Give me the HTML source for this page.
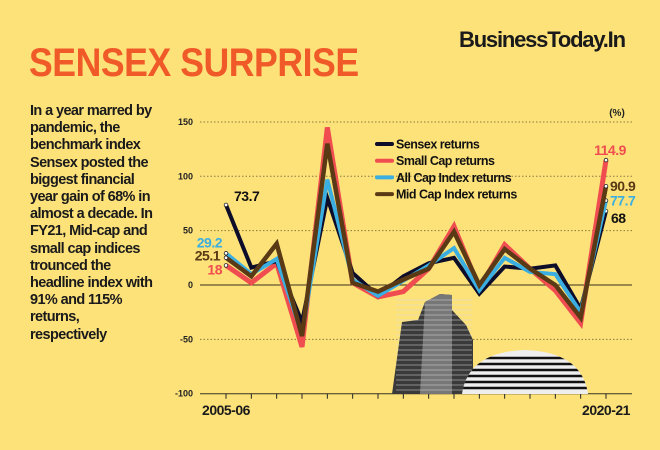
<!DOCTYPE html>
<html><head><meta charset="utf-8"><style>
body{margin:0;width:660px;height:450px;background:#fde27a;overflow:hidden;font-family:"Liberation Sans",sans-serif;position:relative}
.t{position:absolute;margin:0}
#title{left:29px;top:41px;font-size:40px;font-weight:bold;color:#f05a28;transform:scaleX(0.89);transform-origin:left top;letter-spacing:-0.5px;white-space:nowrap}
#brand{left:459px;top:27px;font-size:22px;font-weight:bold;color:#1a1a1a;letter-spacing:-1.2px;white-space:nowrap}
#desc{left:30px;top:103px;font-size:14.5px;font-weight:bold;line-height:17.2px;color:#1a1a1a;letter-spacing:-0.6px;width:160px}
svg{position:absolute;left:0;top:0}
</style></head><body>
<div class="t" id="brand">BusinessToday.In</div>
<div class="t" id="title">SENSEX SURPRISE</div>
<div class="t" id="desc">In a year marred by<br>pandemic, the<br>benchmark index<br>Sensex posted the<br>biggest financial<br>year gain of 68% in<br>almost a decade. In<br>FY21, Mid-cap and<br>small cap indices<br>trounced the<br>headline index with<br>91% and 115%<br>returns,<br>respectively</div>
<svg id="chart" width="660" height="450">
<defs><clipPath id="domeclip"><path d="M462 394 Q468 352 525 350 Q582 352 588 394 Z"/></clipPath></defs>
</svg>
<script>
const categories=["2005-06","2006-07","2007-08","2008-09","2009-10","2010-11","2011-12","2012-13","2013-14","2014-15","2015-16","2016-17","2017-18","2018-19","2019-20","2020-21"];
const sensex=[73.7,16,22,-34,80,11,-10,8,20,25,-8,17,15,18,-22,68];
const smallCap=[18,2,20,-57,145,2,-11,-6,15,54,-3,37,15,-5,-35,114.9];
const allCap=[29.2,10,24,-45,97,5,-10,4,18,34,-5,25,12,10,-25,77.7];
const midCap=[25.1,8,38,-47,130,2,-6,5,15,49,0,33,15,0,-30,90.9];
const yTicks=[150,100,50,0,-50,-100];
const NS="http://www.w3.org/2000/svg";
const svg=document.getElementById('chart');
const x0=226,x1=606,y0v=285,k=1.087;
const X=i=>x0+i*(x1-x0)/(categories.length-1);
const Y=v=>y0v-v*k;
function mk(t,a,p){const e=document.createElementNS(NS,t);for(const q in a)e.setAttribute(q,a[q]);(p||svg).appendChild(e);return e;}
yTicks.forEach(v=>{
 const solid=(v===0||v===-100);
 const g=mk('line',{x1:200,x2:632,y1:Y(v),y2:Y(v),stroke:solid?'#3a3320':'#8a7a40','stroke-width':1,'stroke-dasharray':solid?'':'1.5,2'});
 
 
 const t=mk('text',{x:193,y:Y(v)+3,'text-anchor':'end','font-size':9,'font-weight':'bold',fill:'#222'});
 t.textContent=v;
 
 
});
categories.forEach((c,i)=>{
 const tk=mk('line',{x1:X(i),x2:X(i),y1:Y(-100),y2:Y(-100)+5,stroke:'#222','stroke-width':1});
 
 
});
[[0,categories[0]],[15,categories[15]]].forEach(([i,c])=>{
 const t=mk('text',{x:X(i),y:415,'text-anchor':'middle','font-size':14,'font-weight':'bold',fill:'#1a1a1a','letter-spacing':'-0.5'});
 t.textContent=c;
 
 
});
const pct=mk('text',{x:617,y:116,'text-anchor':'middle','font-size':10,'font-weight':'bold',fill:'#222'});
pct.textContent='(%)';


const b=mk('g',{});


mk('path',{d:'M392 394 L402 322 L418 320 L425 302 L440 294 L452 295 L452 310 L466 325 L473 340 L473 394 Z',fill:'#3a3a3a'},b);
mk('path',{d:'M425 302 L440 294 L452 295 L452 394 L420 394 Z',fill:'#777'},b);
for(let y=300;y<394;y+=5){mk('line',{x1:396,x2:472,y1:y,y2:y,stroke:'#ddd','stroke-width':1,opacity:0.5},b);}
const dome=mk('g',{'clip-path':'url(#domeclip)'},b);
mk('rect',{x:460,y:348,width:130,height:46,fill:'#eee'},dome);
for(let y=358;y<394;y+=6){mk('line',{x1:460,x2:590,y1:y,y2:y,stroke:'#111','stroke-width':2.5},dome);}
const series=[[smallCap,'#ef4d4f','small-cap',5],[midCap,'#5a3a15','mid-cap',4.5],[allCap,'#3aaee0','all-cap',4],[sensex,'#0d0d2a','sensex',4]];
const drawOrder=[series[0],series[3],series[2],series[1]];
drawOrder.forEach(([d,col,n,w])=>{
 const p=mk('polyline',{points:d.map((v,i)=>X(i)+','+Y(v)).join(' '),fill:'none',stroke:col,'stroke-width':w,'stroke-linejoin':'miter'});
 
 
 [0,15].forEach(i=>{const c=mk('circle',{cx:X(i),cy:Y(d[i]),r:1.8,fill:'#fff',stroke:'#222','stroke-width':0.8});
 
 });
});
const labs=[[sensex,0,'#111',234,Y(sensex[0])-4,'start'],[allCap,0,'#3aaee0',222,Y(allCap[0])-6,'end'],[midCap,0,'#5a3a15',220,Y(midCap[0])+3,'end'],[smallCap,0,'#ef4d4f',222,Y(smallCap[0])+9,'end'],
[smallCap,15,'#ef4d4f',610,Y(smallCap[15])-5,'middle'],[midCap,15,'#5a3a15',610,Y(midCap[15])+5,'start'],[allCap,15,'#3aaee0',610,Y(allCap[15])+5,'start'],[sensex,15,'#111',611,Y(sensex[15])+12,'start']];
labs.forEach(([d,i,col,x,y,a])=>{
 const t=mk('text',{x:x,y:y,'text-anchor':a,'font-size':14,'font-weight':'bold',fill:col,'letter-spacing':'-0.5'});
 t.textContent=d[i];
 
 
});
const leg=[['Sensex returns','#0d0d2a'],['Small Cap returns','#ef4d4f'],['All Cap Index returns','#3aaee0'],['Mid Cap Index returns','#5a3a15']];
leg.forEach(([t,c],i)=>{
 const y=144+i*16.7;
 const g=mk('g',{});
 
 
 mk('line',{x1:377,x2:392,y1:y,y2:y,stroke:c,'stroke-width':4,'stroke-linecap':'round'},g);
 const tx=mk('text',{x:396,y:y+4.5,'font-size':12.5,'font-weight':'bold',fill:'#111','letter-spacing':'-0.5'},g);
 tx.textContent=t;
});
</script>
</body></html>
